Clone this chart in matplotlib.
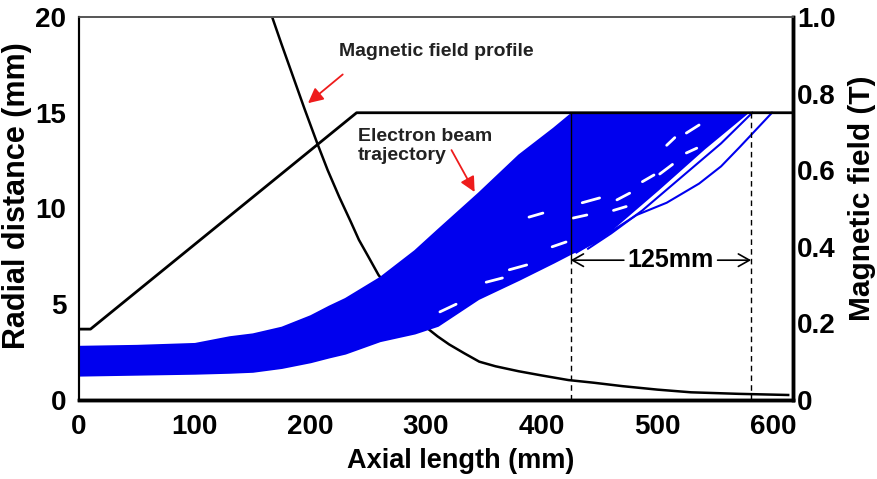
import numpy as np
import matplotlib.pyplot as plt

plt.rcParams['font.family'] = ['Liberation Sans', 'DejaVu Sans']

# wall profile of the tube (mm)
wall_x = [0, 10, 240, 617]
wall_y = [3.7, 3.7, 15.0, 15.0]

# magnetic field profile (T)
field_x = [160, 167, 175, 185, 195, 206, 215, 225, 235, 242, 250, 259, 270, 280, 290, 300, 310, 320,
           333, 346, 360, 380, 400, 423, 445, 470, 500, 529, 570, 613]
field_b = [1.08, 1.0, 0.93, 0.845, 0.76, 0.67, 0.60, 0.53, 0.465, 0.418, 0.375, 0.326, 0.285, 0.25,
           0.218, 0.19, 0.166, 0.145, 0.122, 0.10, 0.088, 0.075, 0.064, 0.052, 0.045, 0.036, 0.027,
           0.02, 0.016, 0.013]

# envelope of the electron beam (mm)
band_x = [0, 50, 100, 130, 150, 175, 200, 216, 230, 260, 290, 310, 345, 380, 410, 426, 449, 500, 540, 577]
band_lo = [1.3, 1.35, 1.4, 1.45, 1.5, 1.7, 2.0, 2.25, 2.45, 3.1, 3.5, 3.9, 5.3, 6.3, 7.2, 7.7, 8.35, 11.0, 13.15, 15.0]
band_hi = [2.8, 2.85, 2.95, 3.3, 3.45, 3.8, 4.4, 4.9, 5.3, 6.4, 7.8, 8.9, 10.8, 12.8, 14.2, 15.0, 15.0, 15.0, 15.0, 15.0]

# outer trajectories leaving the beam
traj_a_x = [440, 460, 487, 520, 555, 582]
traj_a_y = [7.9, 8.7, 9.9, 11.6, 13.4, 15.0]
traj_b_x = [430, 455, 482, 508, 536, 555, 571, 585, 599]
traj_b_y = [7.7, 8.6, 9.66, 10.3, 11.3, 12.2, 13.2, 14.1, 15.0]

# gaps between the orbit loops inside the beam
gap_x0 = [525, 508, 502, 525, 487, 465, 462, 435, 427, 409, 372, 352, 389, 452, 312]
gap_x1 = [536, 515, 513, 534, 497, 476, 473, 450, 439, 421, 387, 366, 401, 465, 326]
gap_y0 = [13.94, 13.3, 11.8, 12.9, 11.4, 10.45, 9.9, 10.3, 9.5, 8.0, 6.8, 6.15, 9.55, 8.35, 4.6]
gap_y1 = [14.36, 13.7, 12.3, 13.15, 11.75, 10.8, 10.1, 10.55, 9.66, 8.25, 7.05, 6.37, 9.76, 8.7, 5.0]

blue = '#0000ee'
red = '#ee1c1c'

fig, ax = plt.subplots(figsize=(8.77, 4.79), dpi=100)
fig.subplots_adjust(left=0.090, right=0.904, top=0.9645, bottom=0.165)
ax2 = ax.twinx()
ax.set_zorder(ax2.get_zorder() + 1)
ax.patch.set_visible(False)

ax.fill_between(band_x, band_lo, band_hi, color=blue, edgecolor=blue, lw=1.5)
for x0, x1, y0, y1 in zip(gap_x0, gap_x1, gap_y0, gap_y1):
    ax.plot([x0, x1], [y0, y1], color='white', lw=2, solid_capstyle='round')
ax.plot(traj_a_x, traj_a_y, color=blue, lw=1.5)
ax.plot(traj_b_x, traj_b_y, color=blue, lw=1.5)
ax.plot(wall_x, wall_y, color='black', lw=2)
ax2.plot(field_x, field_b, color='black', lw=1.8)

# 125 mm marker
ax.plot([425, 425], [0, 7.4], color='black', lw=1, ls=(0, (4, 3)))
ax.plot([425, 425], [7.4, 15], color='black', lw=1)
ax.plot([581, 581], [0, 15], color='black', lw=1, ls=(0, (4, 3)))
ax.text(511, 7.3, '125mm', ha='center', va='center', fontsize=18, fontweight='bold')
arrow = dict(arrowstyle='->,head_length=0.8,head_width=0.45', lw=1.2, color='black', shrinkA=0, shrinkB=0)
ax.annotate('', xy=(425, 7.3), xytext=(471, 7.3), arrowprops=arrow)
ax.annotate('', xy=(581, 7.3), xytext=(552, 7.3), arrowprops=arrow)

# labels with red arrows
ax.text(225, 18.2, 'Magnetic field profile', ha='left', va='center', fontsize=14, fontweight='bold', color='#222222')
ax.text(241, 13.25, 'Electron beam\ntrajectory', ha='left', va='center', fontsize=14, fontweight='bold',
        color='#222222', linespacing=1.15)
red_arrow = dict(arrowstyle='-|>,head_length=0.9,head_width=0.45', lw=1.3, color=red, shrinkA=0, shrinkB=0)
ax.annotate('', xy=(198, 15.5), xytext=(228, 17.0), arrowprops=red_arrow)
ax.annotate('', xy=(342, 10.86), xytext=(322, 13.05), arrowprops=red_arrow)

ax.set_xlim(0, 617)
ax.set_ylim(0, 20)
ax2.set_ylim(0, 1.0)
ax.set_xticks([0, 100, 200, 300, 400, 500, 600])
ax.set_yticks([0, 5, 10, 15, 20])
ax2.set_yticks([0, 0.2, 0.4, 0.6, 0.8, 1.0])
ax2.set_yticklabels(['0', '0.2', '0.4', '0.6', '0.8', '1.0'])

for a in (ax, ax2):
    a.tick_params(length=0, labelsize=20)
    for lab in a.get_xticklabels() + a.get_yticklabels():
        lab.set_fontweight('bold')
ax.tick_params(axis='y', pad=9)
ax.tick_params(axis='x', pad=10)
ax2.tick_params(axis='y', pad=3)

for a in (ax, ax2):
    a.spines['left'].set_linewidth(1.5)
    a.spines['bottom'].set_linewidth(2.5)
    a.spines['right'].set_linewidth(2.5)
    a.spines['top'].set_linewidth(1.2)
    a.spines['top'].set_color('#555555')

ax.set_xlabel('Axial length (mm)', fontsize=19.5, fontweight='bold')
ax.set_ylabel('Radial distance (mm)', fontsize=22, fontweight='bold')
ax2.set_ylabel('Magnetic field (T)', fontsize=21.5, fontweight='bold')
ax.xaxis.set_label_coords(0.535, -0.125)
ax.yaxis.set_label_coords(-0.066, 0.533)
ax2.yaxis.set_label_coords(1.077, 0.527)

fig.savefig('out.png', dpi=100)
